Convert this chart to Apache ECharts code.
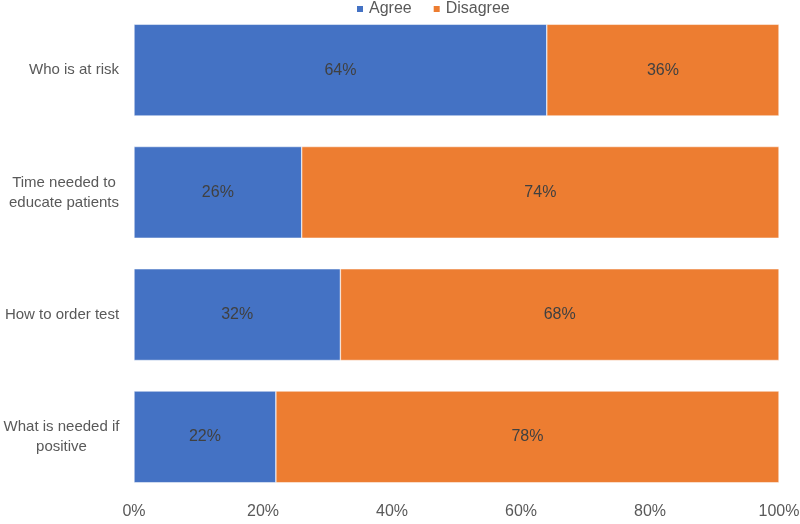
<!DOCTYPE html>
<html><head><meta charset="utf-8">
<script src="https://cdn.jsdelivr.net/npm/echarts@6/dist/echarts.min.js"></script>
<style>html,body{margin:0;padding:0;background:#fff}#c{width:800px;height:524px}</style>
</head><body><div id="c"></div>
<script>
const categories = ["Who is at risk", "Time needed to\neducate patients", "How to order test", "What is needed if\npositive"];
const agree = [64, 26, 32, 22];
const disagree = [36, 74, 68, 78];
const xTicks = [0, 20, 40, 60, 80, 100];

const font = 'Arial, "Liberation Sans", sans-serif';
const catFontSize = 15;
const ctx = document.createElement('canvas').getContext('2d');
ctx.font = catFontSize + 'px ' + font;
const rich = {};
categories.forEach((c, i) => {
  const w = Math.max(...c.split('\n').map(l => ctx.measureText(l).width));
  rich['l' + i] = {width: Math.ceil(w) + 1, align: 'center', color: '#595959', fontSize: catFontSize, fontFamily: font, lineHeight: 20};
});

const chart = echarts.init(document.getElementById('c'), null, {renderer: 'canvas'});
const lbl = {show: true, position: 'inside', formatter: p => p.value + '%', color: '#404040', fontSize: 16, fontFamily: font};
chart.setOption({
  animation: false,
  legend: {
    top: 1, left: 355, padding: 0, itemWidth: 8, itemHeight: 8, itemGap: 20, icon: 'rect',
    textStyle: {color: '#595959', fontSize: 16, fontFamily: font},
    data: ['Agree', 'Disagree']
  },
  grid: {left: 134, right: 21, top: 9, bottom: 26, containLabel: false, outerBoundsMode: 'none'},
  xAxis: {
    type: 'value', min: 0, max: 100, interval: 20,
    axisLine: {show: false}, axisTick: {show: false}, splitLine: {show: false},
    axisLabel: {formatter: v => v + '%', color: '#595959', fontSize: 16, fontFamily: font, margin: 6}
  },
  yAxis: {
    type: 'category', inverse: true, data: categories,
    axisLine: {show: false}, axisTick: {show: false},
    axisLabel: {color: '#595959', fontSize: catFontSize, fontFamily: font, margin: 14, align: 'right', lineHeight: 20,
      rich: rich,
      formatter: (v, i) => v.split('\n').map(l => '{l' + i + '|' + l + '}').join('\n')}
  },
  series: [
    {name: 'Agree', type: 'bar', stack: 't', data: agree, barCategoryGap: '25%',
     itemStyle: {color: '#4472C4', borderColor: '#fff', borderWidth: 0.5}, label: lbl},
    {name: 'Disagree', type: 'bar', stack: 't', data: disagree, barCategoryGap: '25%',
     itemStyle: {color: '#ED7D31', borderColor: '#fff', borderWidth: 0.5}, label: lbl}
  ]
});
</script></body></html>
